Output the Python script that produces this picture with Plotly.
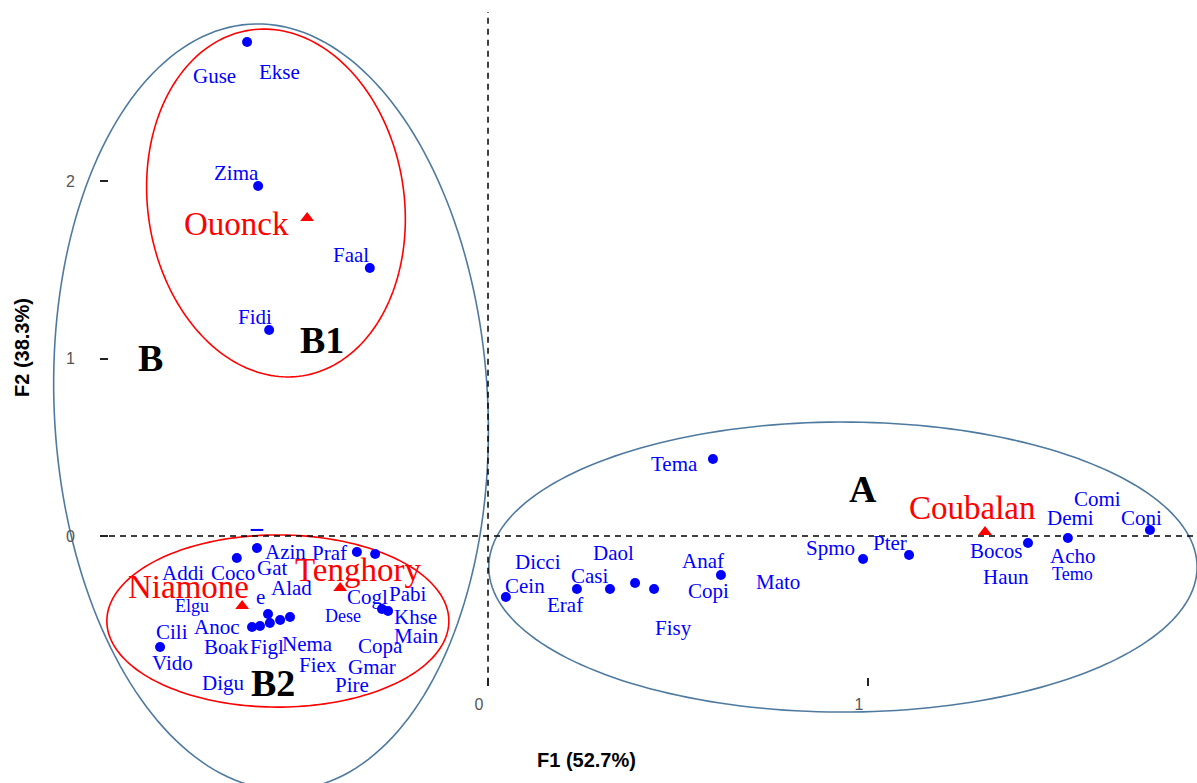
import numpy as np
import plotly.graph_objects as go

# ---------------- data (F1, F2 coordinates) ----------------
dot_x = [-0.634, -0.605, -0.311, -0.576,
         -0.608, -0.661, -0.345, -0.297, -0.579, -0.621, -0.600, -0.574, -0.547, -0.521,
         -0.279, -0.263, -0.863,
         0.592, 0.047, 0.234, 0.321, 0.387, 0.437, 0.613, 0.987, 1.108, 1.421, 1.526, 1.742]
dot_y = [2.783, 1.972, 1.510, 1.161,
         -0.068, -0.124, -0.090, -0.101, -0.439, -0.513, -0.507, -0.490, -0.473, -0.456,
         -0.411, -0.423, -0.625,
         0.434, -0.344, -0.299, -0.299, -0.265, -0.299, -0.220, -0.130, -0.107, -0.039, -0.011, 0.034]

dash_x = [-0.608]
dash_y = [0.034]

species = ["Guse", "Ekse", "Zima", "Faal", "Fidi",
           "Addi", "Coco", "Gat", "Azin", "Praf", "Alad", "e", "Cogl", "Pabi", "Khse",
           "Anoc", "Cili", "Main", "Nema", "Copa", "Boak", "Figl", "Vido", "Fiex", "Gmar",
           "Digu", "Pire",
           "Tema", "Dicci", "Cein", "Casi", "Daol", "Eraf", "Anaf", "Copi", "Fisy", "Mato",
           "Spmo", "Pter", "Bocos", "Haun", "Demi", "Comi", "Coni", "Acho"]
species_x = [-0.721, -0.550, -0.661, -0.361, -0.613,
             -0.803, -0.671, -0.568, -0.534, -0.416, -0.516, -0.600, -0.318, -0.211, -0.192,
             -0.713, -0.832, -0.187, -0.476, -0.284, -0.687, -0.582, -0.829, -0.447, -0.305,
             -0.697, -0.358,
             0.492, 0.132, 0.097, 0.268, 0.329, 0.203, 0.566, 0.579, 0.487, 0.763,
             0.900, 1.058, 1.339, 1.363, 1.532, 1.605, 1.721, 1.539]
species_y = [2.592, 2.614, 2.045, 1.583, 1.234,
             -0.208, -0.208, -0.180, -0.090, -0.096, -0.293, -0.344, -0.344, -0.327, -0.456,
             -0.513, -0.541, -0.563, -0.608, -0.620, -0.625, -0.625, -0.715, -0.727, -0.738,
             -0.828, -0.839,
             0.406, -0.146, -0.282, -0.225, -0.096, -0.389, -0.141, -0.310, -0.518, -0.259,
             -0.068, -0.039, -0.085, -0.231, 0.101, 0.208, 0.101, -0.113]

small_species = ["Elgu", "Dese", "Temo"]
small_x = [-0.779, -0.382, 1.537]
small_y = [-0.394, -0.451, -0.214]

sites = ["Ouonck", "Tenghory", "Niamone", "Coubalan"]
site_x = [-0.476, -0.389, -0.647, 1.308]
site_y = [1.792, -0.293, -0.394, 0.023]
site_label_x = [-0.663, -0.342, -0.789, 1.274]
site_label_y = [1.758, -0.192, -0.287, 0.158]

groups = ["A", "B", "B1", "B2"]
group_x = [0.987, -0.889, -0.437, -0.566]
group_y = [0.265, 1.003, 1.104, -0.828]

# ellipses: centre x, centre y, semi-axis x, semi-axis y, shear, colour
ell_names = ["B", "B1", "B2", "A"]
ell_cx = [-0.571, -0.558, -0.553, 0.934]
ell_cy = [0.727, 1.876, -0.479, -0.175]
ell_ax = [0.571, 0.339, 0.450, 0.932]
ell_ay = [2.158, 0.980, 0.485, 0.817]
ell_shear = [0.0163, 0.0322, 0.0, 0.0]
ell_color = ["#4f7aa0", "#ff0000", "#ff0000", "#4f7aa0"]

X_RANGE = [-0.9974, 1.8658]
Y_RANGE = [-0.7944, 2.9634]

fig = go.Figure()

fig.add_trace(go.Scatter(x=dot_x, y=dot_y, mode="markers",
                         marker=dict(color="#0000ff", size=10, symbol="circle"),
                         cliponaxis=False, hoverinfo="skip", showlegend=False))
fig.add_trace(go.Scatter(x=dash_x, y=dash_y, mode="markers",
                         marker=dict(color="#0000ff", size=9, symbol="line-ew",
                                     line=dict(color="#0000ff", width=2)),
                         cliponaxis=False, hoverinfo="skip", showlegend=False))
fig.add_trace(go.Scatter(x=site_x, y=site_y, mode="markers",
                         marker=dict(color="#ff0000", size=12, symbol="triangle-up"),
                         cliponaxis=False, hoverinfo="skip", showlegend=False))


def to_paper_x(v):
    return (np.asarray(v) - X_RANGE[0]) / (X_RANGE[1] - X_RANGE[0])


def to_paper_y(v):
    return (np.asarray(v) - Y_RANGE[0]) / (Y_RANGE[1] - Y_RANGE[0])


annotations = []


def add_labels(texts, xs, ys, size, color, bold=False):
    for s, x, y in zip(texts, xs, ys):
        annotations.append(dict(
            text=("<b>%s</b>" % s) if bold else s,
            xref="paper", yref="paper",
            x=float(to_paper_x(x)), y=float(to_paper_y(y)),
            xanchor="center", yanchor="middle", showarrow=False,
            font=dict(family="Liberation Serif", size=size, color=color)))


add_labels(species, species_x, species_y, 21, "#0000ff")
add_labels(small_species, small_x, small_y, 18, "#0000ff")
add_labels(sites, site_label_x, site_label_y, 33, "#ff0000")
add_labels(groups, group_x, group_y, 38, "#000000", bold=True)

annotations.append(dict(text="<b>F1 (52.7%)</b>", xref="paper", yref="paper",
                        x=(586 - 109) / 1088, y=(677 - 760) / 667, showarrow=False,
                        xanchor="center", yanchor="middle",
                        font=dict(family="Liberation Sans", size=20, color="#000000")))
annotations.append(dict(text="<b>F2 (38.3%)</b>", xref="paper", yref="paper",
                        x=(22 - 109) / 1088, y=(677 - 348) / 667, showarrow=False,
                        textangle=-90, xanchor="center", yanchor="middle",
                        font=dict(family="Liberation Sans", size=20, color="#000000")))

shapes = []
t = np.linspace(0, 2 * np.pi, 200)
for cx, cy, ax, ay, sh, col in zip(ell_cx, ell_cy, ell_ax, ell_ay, ell_shear, ell_color):
    ex = cx + ax * np.cos(t) - sh * ay * np.sin(t)
    ey = cy + ay * np.sin(t)
    px = to_paper_x(ex)
    py = to_paper_y(ey)
    path = "M " + " L ".join("%.5f,%.5f" % (a, b) for a, b in zip(px, py)) + " Z"
    shapes.append(dict(type="path", path=path, xref="paper", yref="paper",
                       line=dict(color=col, width=1.6), layer="below"))

shapes.append(dict(type="line", xref="paper", yref="y", x0=0, x1=1, y0=0, y1=0,
                   line=dict(color="#000000", width=1.5, dash="6px,5px"), layer="below"))
shapes.append(dict(type="line", xref="x", yref="paper", x0=0, x1=0, y0=-0.01, y1=0.997,
                   line=dict(color="#000000", width=1.5, dash="6px,5px"), layer="below"))

fig.update_layout(
    width=1197, height=783,
    margin=dict(l=109, r=0, t=10, b=106),
    paper_bgcolor="white", plot_bgcolor="white",
    shapes=shapes,
    annotations=annotations,
    xaxis=dict(range=X_RANGE, showgrid=False, zeroline=False, showline=False,
               tickmode="array", tickvals=[0, 1], ticktext=["0", "1"],
               ticks="outside", ticklen=8, tickwidth=1.5, tickcolor="#222",
               ticklabelstandoff=5, ticklabelshift=-9,
               tickfont=dict(family="Liberation Sans", size=16, color="#555555"),
               automargin=False),
    yaxis=dict(range=Y_RANGE, showgrid=False, zeroline=False, showline=False,
               tickmode="array", tickvals=[0, 1, 2], ticktext=["0", "1", "2"],
               ticks="outside", ticklen=8, tickwidth=1.5, tickcolor="#222",
               ticklabelstandoff=22,
               tickfont=dict(family="Liberation Sans", size=16, color="#555555"),
               automargin=False),
)

fig.write_html("out.html")
